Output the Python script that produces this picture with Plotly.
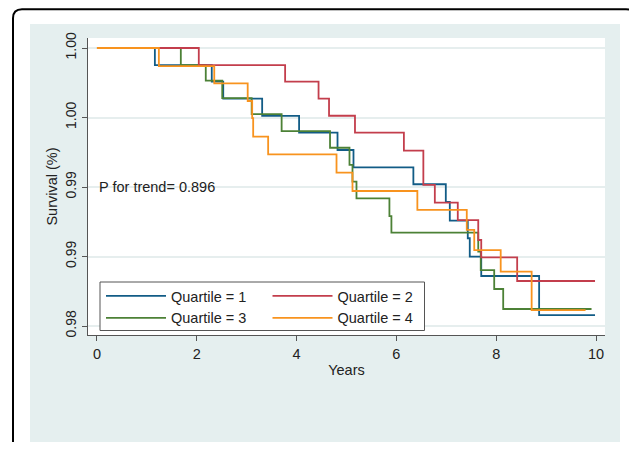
import plotly.graph_objects as go

# ---- data ----
q1_t = [0, 1.16, 2.30, 2.53, 3.31, 4.05, 4.82, 5.14, 6.34, 6.99, 7.07, 7.43, 7.47, 7.70, 8.86, 9.98]
q1_s = [1.0, 0.99902, 0.99806, 0.99709, 0.99609, 0.99513, 0.99413, 0.99313, 0.99216, 0.99115,
        0.99006, 0.98905, 0.98799, 0.98688, 0.98463, 0.98463]

q2_t = [0, 2.04, 3.77, 4.44, 4.65, 5.17, 6.15, 6.54, 6.77, 7.23, 7.64, 7.70, 8.42, 9.98]
q2_s = [1.0, 0.99902, 0.99806, 0.99709, 0.99610, 0.99513, 0.99409, 0.99212, 0.99110, 0.99010,
        0.98895, 0.98795, 0.98659, 0.98659]

q3_t = [0, 1.68, 2.18, 2.51, 3.10, 3.70, 4.67, 5.06, 5.12, 5.20, 5.86, 5.90, 7.64, 7.69, 7.96, 8.14, 9.91]
q3_s = [1.0, 0.99902, 0.99812, 0.99712, 0.99620, 0.99522, 0.99426, 0.99327, 0.99231, 0.99135,
        0.99033, 0.98937, 0.98828, 0.98722, 0.98613, 0.98498, 0.98498]

q4_t = [0, 1.24, 2.35, 3.02, 3.11, 3.13, 3.43, 4.80, 5.12, 6.42, 7.41, 7.56, 8.09, 8.71, 9.79]
q4_s = [1.0, 0.99896, 0.99797, 0.99695, 0.99597, 0.99490, 0.99388, 0.99283, 0.99177, 0.99068,
        0.98953, 0.98837, 0.98713, 0.98492, 0.98492]

series_names = ["Quartile = 1", "Quartile = 3", "Quartile = 2", "Quartile = 4"]
series_t = [q1_t, q3_t, q2_t, q4_t]
series_s = [q1_s, q3_s, q2_s, q4_s]
series_colors = ["#125C86", "#4C8136", "#C33E4C", "#F8931E"]
series_legends = ["legend", "legend", "legend2", "legend2"]

y_tickvals = [1.000, 0.996, 0.992, 0.988, 0.984]
y_ticktext = ["1.00", "1.00", "0.99", "0.99", "0.98"]
x_tickvals = [0, 2, 4, 6, 8, 10]

annotation_text = "P for trend= 0.896"

FONT = "Liberation Sans, Arial, Helvetica, sans-serif"

fig = go.Figure()
for name, t, s, c, lg in zip(series_names, series_t, series_s, series_colors, series_legends):
    fig.add_trace(go.Scatter(x=t, y=s, mode="lines", name=name, legend=lg,
                             line=dict(color=c, width=1.8, shape="hv")))

# screen geometry (page has an 8px body margin)
OFF = 8
L, R, T, B = 88, 605, 38, 335          # plot area in screen pixels
W, H = 637 - OFF, 450 - 2 * OFF        # figure size (no page scrolling)
pw, ph = R - L, B - T

def px(x):
    return (x - L) / pw

def py(y):
    return (B - y) / ph

shapes = []
# light background panel
shapes.append(dict(type="rect", xref="paper", yref="paper", layer="below",
                   x0=px(30), x1=px(620), y0=py(470), y1=py(24),
                   fillcolor="#E5EFEF", line=dict(width=0)))
# white plot region
shapes.append(dict(type="rect", xref="paper", yref="paper", layer="below",
                   x0=0, x1=1, y0=0, y1=1, fillcolor="white", line=dict(width=0)))
# legend box
shapes.append(dict(type="rect", xref="paper", yref="paper", layer="above",
                   x0=px(100), x1=px(424.5), y0=py(330.5), y1=py(282),
                   fillcolor="white", line=dict(color="#555", width=1)))
# outer rounded frame
x0, x1, y0, y1 = px(13), px(635), py(480), py(9.2)
rx, ry = 9 / pw, 9 / ph
path = (f"M{x0},{y0} L{x0},{y1 - ry} Q{x0},{y1} {x0 + rx},{y1} "
        f"L{x1 - rx},{y1} Q{x1},{y1} {x1},{y1 - ry} L{x1},{y0}")
shapes.append(dict(type="path", xref="paper", yref="paper", layer="above",
                   path=path, line=dict(color="black", width=2)))

leg_common = dict(orientation="v", xanchor="left", yanchor="top",
                  bgcolor="rgba(0,0,0,0)", borderwidth=0, itemwidth=60,
                  tracegroupgap=0,
                  font=dict(family=FONT, size=14.5, color="#222"))

fig.update_layout(
    width=W, height=H,
    margin=dict(l=L - OFF, r=(W + OFF) - R, t=T - OFF, b=(H + OFF) - B, pad=0),
    paper_bgcolor="white", plot_bgcolor="white",
    font=dict(family=FONT, size=14, color="#222"),
    shapes=shapes,
    showlegend=True,
    legend=dict(x=px(101), y=py(280), **leg_common),
    legend2=dict(x=px(267.5), y=py(280), **leg_common),
    annotations=[dict(x=0, y=0.992, xref="x", yref="y", text=annotation_text,
                      showarrow=False, xanchor="left", yanchor="middle",
                      font=dict(family=FONT, size=14.5, color="#222"))],
)

fig.update_xaxes(range=[-0.18, 10.18], tickvals=x_tickvals, ticks="outside", ticklen=5,
                 tickcolor="#555", showline=True, linecolor="#555", linewidth=1.2,
                 showgrid=False, zeroline=False,
                 title=dict(text="Years", standoff=4, font=dict(size=14.5)),
                 tickfont=dict(size=14.5))
fig.update_yaxes(range=[0.983483, 1.000576], tickvals=y_tickvals, ticktext=y_ticktext,
                 ticks="outside", ticklen=5, tickcolor="#555", tickangle=-90,
                 showline=True, linecolor="#555", linewidth=1.2,
                 showgrid=True, gridcolor="#E6EEEE", gridwidth=1.5, zeroline=False,
                 title=dict(text="Survival (%)", standoff=2, font=dict(size=14.5)),
                 tickfont=dict(size=14))

fig.write_html("out.html")
